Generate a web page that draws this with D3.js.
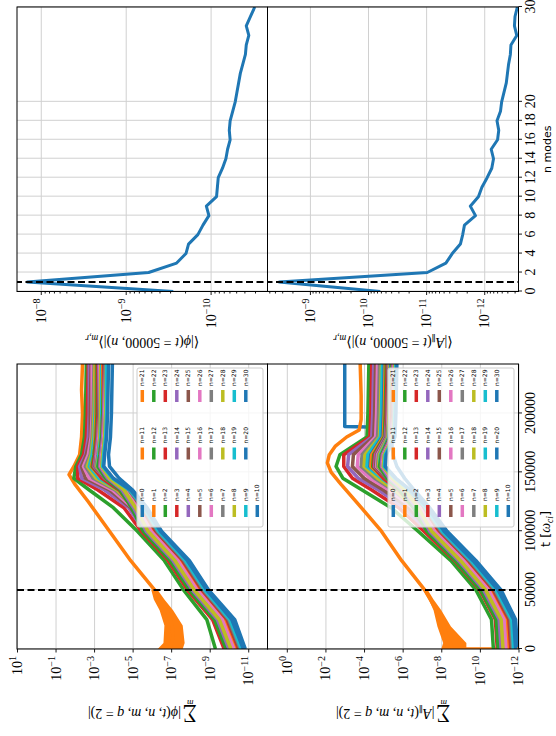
<!DOCTYPE html>
<html>
<head>
<meta charset="utf-8">
<script src="https://cdn.jsdelivr.net/npm/d3@7"></script>
<style>
  html, body { margin: 0; padding: 0; background: #fff; }
  svg { display: block; }
</style>
</head>
<body>
<svg id="fig" width="556" height="736"></svg>
<script>
// ---------- data (log10 of the amplitudes) ----------
const modeNumbers = [0, 1, 2, 3, 4, 5, 6, 7, 8, 9, 10, 11, 12, 13, 14, 15, 16, 17, 18, 19, 20,
                     21, 22, 23, 24, 25, 26, 27, 28, 29, 30];
const tab10 = ['#1f77b4', '#ff7f0e', '#2ca02c', '#d62728', '#9467bd',
               '#8c564b', '#e377c2', '#7f7f7f', '#bcbd22', '#17becf'];

const tLimits = [0, 242000];
const tStart = 50000;      // dashed marker on the time series
const nMarker = 1;         // dashed marker on the spectra

// shared time grid for the n=0 / n>=2 curves
const tGrid = [0, 25000, 50000, 75000, 100000, 120000, 135000, 145000, 155000, 165000, 180000, 200000, 242000];

// phi, n = 0
const phiN0 = [-10.85, -10.3, -8.95, -7.95, -6.5, -5.75, -5.0, -4.3, -3.8, -3.75, -3.85, -3.9, -3.95];
// phi, n = 1 (own time base)
const phiN1Time = [0, 10000, 20000, 30000, 40000, 50000, 75000, 100000, 125000, 140000, 148000, 155000, 165000, 180000, 200000, 220000, 242000];
const phiN1 = [-6.9, -7.1, -7.05, -6.85, -6.5, -6.15, -4.9, -3.8, -2.7, -2.0, -1.7, -1.95, -2.25, -2.35, -2.4, -2.35, -2.4];
const phiN1BandTime = [0, 5000, 20000, 33000, 42000, 50000];
const phiN1BandLo = [-7.6, -7.7, -7.6, -7.1, -6.65, -6.3];
const phiN1BandHi = [-6.3, -6.6, -6.65, -6.4, -6.1, -5.97];
// phi, n = 2 .. 30 on tGrid
const phiBundle = [
  [-9.3, -8.85, -7.65, -6.65, -5.25, -4.0, -2.75, -1.95, -2.05, -2.35, -2.5, -2.55, -2.6],
  [-9.75, -9.15, -7.85, -6.85, -5.45, -4.55, -3.2, -2.15, -2.15, -2.45, -2.6, -2.65, -2.7],
  [-9.9, -9.3, -8.0, -7.0, -5.6, -4.8, -3.55, -2.35, -2.25, -2.55, -2.7, -2.75, -2.75],
  [-10.0, -9.4, -8.1, -7.1, -5.7, -4.9, -3.8, -2.55, -2.35, -2.6, -2.8, -2.8, -2.85],
  [-10.1, -9.5, -8.2, -7.2, -5.8, -5.0, -3.95, -2.75, -2.45, -2.7, -2.85, -2.9, -2.9],
  [-10.2, -9.6, -8.3, -7.3, -5.9, -5.1, -4.1, -2.95, -2.55, -2.8, -2.9, -2.95, -3.0],
  [-10.05, -9.45, -8.15, -7.15, -5.75, -5.05, -4.2, -3.1, -2.65, -2.85, -2.95, -3.0, -3.05],
  [-10.3, -9.7, -8.4, -7.4, -6.0, -5.2, -4.3, -3.25, -2.75, -2.9, -3.0, -3.05, -3.1],
  [-10.6, -10.0, -8.7, -7.7, -6.3, -5.45, -4.5, -3.45, -2.9, -3.0, -3.1, -3.1, -3.15],
  [-10.2, -9.6, -8.3, -7.3, -5.9, -5.15, -4.35, -3.4, -2.85, -3.0, -3.05, -3.1, -3.1],
  [-10.25, -9.65, -8.35, -7.35, -5.95, -5.2, -4.4, -3.45, -2.9, -3.0, -3.1, -3.15, -3.15],
  [-9.95, -9.35, -8.05, -7.05, -5.65, -5.0, -4.3, -3.4, -2.95, -3.05, -3.15, -3.2, -3.2],
  [-10.35, -9.75, -8.45, -7.45, -6.05, -5.3, -4.5, -3.55, -3.0, -3.1, -3.2, -3.25, -3.25],
  [-10.1, -9.5, -8.2, -7.2, -5.8, -5.1, -4.45, -3.55, -3.05, -3.15, -3.25, -3.25, -3.3],
  [-10.4, -9.8, -8.5, -7.5, -6.1, -5.35, -4.55, -3.6, -3.1, -3.15, -3.25, -3.3, -3.3],
  [-10.15, -9.55, -8.25, -7.25, -5.85, -5.15, -4.5, -3.6, -3.1, -3.2, -3.3, -3.3, -3.35],
  [-10.45, -9.85, -8.55, -7.55, -6.15, -5.4, -4.6, -3.65, -3.15, -3.25, -3.3, -3.35, -3.35],
  [-10.3, -9.7, -8.4, -7.4, -6.0, -5.3, -4.6, -3.7, -3.2, -3.25, -3.35, -3.4, -3.4],
  [-10.7, -10.1, -8.8, -7.8, -6.4, -5.6, -4.75, -3.8, -3.3, -3.3, -3.4, -3.45, -3.45],
  [-10.4, -9.8, -8.5, -7.5, -6.1, -5.4, -4.65, -3.75, -3.25, -3.3, -3.4, -3.45, -3.45],
  [-9.85, -9.25, -7.95, -6.95, -5.55, -4.95, -4.35, -3.6, -3.2, -3.3, -3.4, -3.45, -3.5],
  [-10.5, -9.9, -8.6, -7.6, -6.2, -5.45, -4.7, -3.8, -3.3, -3.35, -3.45, -3.5, -3.5],
  [-10.0, -9.4, -8.1, -7.1, -5.7, -5.05, -4.45, -3.7, -3.3, -3.35, -3.45, -3.5, -3.55],
  [-10.55, -9.95, -8.65, -7.65, -6.25, -5.5, -4.75, -3.85, -3.35, -3.4, -3.5, -3.55, -3.55],
  [-10.25, -9.65, -8.35, -7.35, -5.95, -5.25, -4.6, -3.8, -3.35, -3.4, -3.5, -3.55, -3.6],
  [-10.6, -10.0, -8.7, -7.7, -6.3, -5.55, -4.8, -3.9, -3.4, -3.45, -3.55, -3.6, -3.6],
  [-10.1, -9.5, -8.2, -7.2, -5.8, -5.15, -4.55, -3.8, -3.4, -3.45, -3.55, -3.6, -3.65],
  [-10.65, -10.05, -8.75, -7.75, -6.35, -5.6, -4.85, -3.95, -3.45, -3.5, -3.6, -3.65, -3.65],
  [-10.75, -10.15, -8.85, -7.85, -6.45, -5.65, -4.9, -4.0, -3.5, -3.55, -3.65, -3.7, -3.75]
];

// A_par, n = 0 (jumps to a constant level late in the run)
const aparN0Time = [0, 25000, 50000, 75000, 100000, 120000, 135000, 145000, 155000, 165000, 180000, 188000, 189000, 242000];
const aparN0 = [-11.95, -11.85, -11.1, -9.8, -8.3, -7.4, -6.6, -6.1, -5.7, -5.5, -5.4, -5.35, -3.0, -3.0];
// A_par, n = 1 (first sample is zero -> clipped at the bottom)
const aparN1Time = [0, 0, 10000, 20000, 30000, 40000, 50000, 75000, 100000, 125000, 140000, 150000, 158000, 165000, 172000, 180000, 186000, 195000, 215000, 242000];
const aparN1 = [-13, -8.6, -8.3, -8.1, -7.85, -7.5, -7.15, -5.95, -4.9, -3.6, -2.8, -2.3, -2.1, -2.2, -2.5, -3.1, -3.75, -3.85, -3.85, -3.8];
const aparN1BandTime = [0, 5000, 19000, 33000, 42000, 50000];
const aparN1BandLo = [-9.3, -9.3, -8.5, -8.0, -7.6, -7.3];
const aparN1BandHi = [-8.0, -8.1, -7.8, -7.6, -7.35, -7.05];
// A_par, n = 2 .. 30 on tGrid
const aparBundle = [
  [-10.7, -10.6, -9.8, -8.5, -6.8, -5.4, -3.9, -2.9, -2.55, -2.75, -4.15, -4.2, -4.25],
  [-10.9, -10.8, -10.0, -8.7, -7.1, -5.8, -4.4, -3.4, -2.95, -2.95, -4.3, -4.35, -4.4],
  [-11.0, -10.9, -10.1, -8.8, -7.3, -6.1, -4.75, -3.7, -3.15, -3.2, -4.4, -4.45, -4.5],
  [-11.1, -11.0, -10.2, -8.9, -7.4, -6.3, -5.0, -4.0, -3.4, -3.45, -4.5, -4.55, -4.6],
  [-11.2, -11.1, -10.3, -9.0, -7.5, -6.5, -5.3, -4.3, -3.65, -3.7, -4.6, -4.65, -4.7],
  [-11.3, -11.2, -10.4, -9.1, -7.6, -6.65, -5.5, -4.55, -3.85, -3.9, -4.7, -4.75, -4.8],
  [-11.15, -11.05, -10.25, -8.95, -7.5, -6.6, -5.6, -4.7, -4.0, -4.05, -4.8, -4.85, -4.9],
  [-11.4, -11.3, -10.5, -9.2, -7.7, -6.8, -5.8, -4.9, -4.15, -4.2, -4.85, -4.9, -4.95],
  [-11.7, -11.6, -10.8, -9.5, -8.0, -7.1, -6.05, -5.1, -4.3, -4.35, -4.95, -5.0, -5.05],
  [-11.3, -11.2, -10.4, -9.1, -7.6, -6.75, -5.85, -5.0, -4.35, -4.4, -5.0, -5.05, -5.1],
  [-11.35, -11.25, -10.45, -9.15, -7.65, -6.8, -5.9, -5.05, -4.45, -4.5, -5.05, -5.1, -5.15],
  [-11.05, -10.95, -10.15, -8.85, -7.35, -6.6, -5.8, -5.0, -4.5, -4.55, -5.1, -5.15, -5.2],
  [-11.45, -11.35, -10.55, -9.25, -7.75, -6.9, -6.0, -5.15, -4.55, -4.6, -5.1, -5.2, -5.25],
  [-11.2, -11.1, -10.3, -9.0, -7.5, -6.75, -5.95, -5.15, -4.6, -4.65, -5.15, -5.2, -5.25],
  [-11.5, -11.4, -10.6, -9.3, -7.8, -6.95, -6.05, -5.25, -4.65, -4.7, -5.2, -5.25, -5.3],
  [-11.25, -11.15, -10.35, -9.05, -7.55, -6.8, -6.0, -5.2, -4.7, -4.75, -5.2, -5.3, -5.3],
  [-11.55, -11.45, -10.65, -9.35, -7.85, -7.0, -6.1, -5.3, -4.75, -4.8, -5.25, -5.3, -5.35],
  [-11.4, -11.3, -10.5, -9.2, -7.7, -6.9, -6.05, -5.3, -4.8, -4.85, -5.3, -5.35, -5.4],
  [-11.8, -11.7, -10.9, -9.6, -8.1, -7.2, -6.25, -5.4, -4.85, -4.9, -5.3, -5.4, -5.4],
  [-11.5, -11.4, -10.6, -9.3, -7.8, -7.0, -6.15, -5.4, -4.85, -4.9, -5.35, -5.4, -5.45],
  [-10.95, -10.85, -10.05, -8.75, -7.25, -6.55, -5.85, -5.2, -4.8, -4.9, -5.35, -5.45, -5.45],
  [-11.6, -11.5, -10.7, -9.4, -7.9, -7.05, -6.2, -5.45, -4.9, -4.95, -5.4, -5.45, -5.5],
  [-11.1, -11.0, -10.2, -8.9, -7.4, -6.7, -6.0, -5.3, -4.9, -4.95, -5.4, -5.5, -5.5],
  [-11.65, -11.55, -10.75, -9.45, -7.95, -7.1, -6.25, -5.5, -4.95, -5.0, -5.45, -5.5, -5.55],
  [-11.35, -11.25, -10.45, -9.15, -7.65, -6.9, -6.1, -5.4, -4.95, -5.0, -5.45, -5.55, -5.55],
  [-11.7, -11.6, -10.8, -9.5, -8.0, -7.15, -6.3, -5.55, -5.0, -5.05, -5.5, -5.55, -5.6],
  [-11.2, -11.1, -10.3, -9.0, -7.5, -6.8, -6.1, -5.45, -5.0, -5.05, -5.5, -5.6, -5.6],
  [-11.75, -11.65, -10.85, -9.55, -8.05, -7.2, -6.35, -5.6, -5.05, -5.1, -5.55, -5.6, -5.65],
  [-11.85, -11.75, -10.95, -9.65, -8.15, -7.3, -6.4, -5.65, -5.1, -5.15, -5.6, -5.65, -5.7]
];

// spectra at t = 50000 (log10), index = n
const phiSpectrum = [-9.56, -7.84, -9.27, -9.60, -9.71, -9.74, -9.85, -9.91, -9.98, -9.95, -10.07,
  -10.08, -10.09, -10.14, -10.18, -10.20, -10.23, -10.22, -10.23, -10.26, -10.29,
  -10.31, -10.33, -10.35, -10.38, -10.41, -10.42, -10.45, -10.42, -10.47, -10.52];
const aparSpectrum = [-10.21, -8.47, -11.02, -11.34, -11.45, -11.59, -11.63, -11.66, -11.85, -11.76, -11.90,
  -11.96, -12.05, -12.13, -12.16, -12.12, -12.23, -12.25, -12.22, -12.28, -12.30,
  -12.34, -12.38, -12.40, -12.42, -12.45, -12.46, -12.56, -12.52, -12.53, -12.57];

// axis limits and ticks
const tsLogLimits = [-12, 1];
const phiSpLogLimits = [-10.67, -7.72];
const aparSpLogLimits = [-12.59, -8.27];
const tTicks = [0, 50000, 100000, 150000, 200000];
const nTicks = [0, 2, 4, 6, 8, 10, 12, 14, 16, 18, 20, 30];
const phiTsExp = [1, -1, -3, -5, -7, -9, -11];
const aparTsExp = [0, -2, -4, -6, -8, -10, -12];
const phiSpExp = [-8, -9, -10];
const aparSpExp = [-9, -10, -11, -12];

// ---------- layout (drawn in the unrotated frame, 736 x 556) ----------
const serif = '"Liberation Serif", "DejaVu Serif", serif';
const sans = '"DejaVu Sans", sans-serif';
const rows = [{ top: 17, bottom: 267.5 }, { top: 267.5, bottom: 518.5 }];
const tsLeft = 87, tsRight = 372, spLeft = 444.5, spRight = 729;

const svg = d3.select('#fig');
svg.append('rect').attr('width', 556).attr('height', 736).attr('fill', '#fff');
const fig = svg.append('g').attr('transform', 'translate(0,736) rotate(-90)');

const p10 = e => Math.pow(10, e);
const xT = d3.scaleLinear().domain(tLimits).range([tsLeft, tsRight]);
const xN = d3.scaleLinear().domain([0, 30]).range([spLeft, spRight]);
const yPhiTs = d3.scaleLog().domain(tsLogLimits.map(p10)).range([rows[0].bottom, rows[0].top]);
const yAparTs = d3.scaleLog().domain(tsLogLimits.map(p10)).range([rows[1].bottom, rows[1].top]);
const yPhiSp = d3.scaleLog().domain(phiSpLogLimits.map(p10)).range([rows[0].bottom, rows[0].top]);
const yAparSp = d3.scaleLog().domain(aparSpLogLimits.map(p10)).range([rows[1].bottom, rows[1].top]);

function powLabels(sel) {
    sel.each(function(d) {
        const e = Math.round(Math.log10(d));
        const t = d3.select(this).text(null);
        t.append('tspan').text('10');
        t.append('tspan').attr('dy', '-0.55em').attr('font-size', '0.72em')
            .text(e < 0 ? '\u2212' + (-e) : String(e));
    });
}

function styleAxis(g) {
    g.attr('font-family', serif).attr('font-size', 14);
    g.selectAll('.tick line').attr('stroke', '#000').attr('stroke-width', 0.9);
    g.selectAll('.tick text').attr('fill', '#000');
    g.select('.domain').remove();
}

// one panel: grid, clipped data, frame, axes
function panel(id, x, y, left, right, row, opts) {
    const g = fig.append('g');
    const w = right - left, h = row.bottom - row.top;

    g.append('clipPath').attr('id', id).append('rect')
        .attr('x', left).attr('y', row.top).attr('width', w).attr('height', h);

    // grid
    g.append('g').attr('transform', `translate(0,${row.bottom})`)
        .call(d3.axisBottom(x).tickValues(opts.xTicks).tickSize(-h).tickFormat(''))
        .call(s => s.select('.domain').remove())
        .selectAll('line').attr('stroke', '#d0d0d0').attr('stroke-width', 1);
    g.append('g').attr('transform', `translate(${left},0)`)
        .call(d3.axisLeft(y).tickValues(opts.yExp.map(p10)).tickSize(-w).tickFormat(''))
        .call(s => s.select('.domain').remove())
        .selectAll('line').attr('stroke', '#d0d0d0').attr('stroke-width', 1);

    const plot = g.append('g').attr('clip-path', `url(#${id})`);

    // frame
    g.append('rect').attr('x', left).attr('y', row.top).attr('width', w).attr('height', h)
        .attr('fill', 'none').attr('stroke', '#000').attr('stroke-width', 1);

    // y axis
    const ya = g.append('g').attr('transform', `translate(${left},0)`)
        .call(d3.axisLeft(y).tickValues(opts.yExp.map(p10)).tickSize(3.5).tickPadding(3.5))
        .call(styleAxis);
    ya.selectAll('.tick text').call(powLabels);
    if (opts.minor) {
        const lo = Math.floor(opts.limits[0]), hi = Math.ceil(opts.limits[1]);
        const minors = [];
        for (let k = lo; k < hi; k++) {
            for (let m = 2; m <= 9; m++) {
                const v = m * p10(k);
                if (Math.log10(v) > opts.limits[0] && Math.log10(v) < opts.limits[1]) minors.push(v);
            }
        }
        g.append('g').attr('transform', `translate(${left},0)`)
            .call(d3.axisLeft(y).tickValues(minors).tickSize(2).tickFormat(''))
            .call(styleAxis);
    }
    // x axis
    if (opts.xLabels) {
        g.append('g').attr('transform', `translate(0,${row.bottom})`)
            .call(d3.axisBottom(x).tickValues(opts.xTicks).tickSize(3.5).tickPadding(3).tickFormat(d3.format('d')))
            .call(styleAxis);
    }
    return plot;
}

const tsLine = y => d3.line().x(d => xT(d[0])).y(d => y(p10(d[1])));
const tsBand = y => d3.area().x(d => xT(d[0])).y0(d => y(p10(d[1]))).y1(d => y(p10(d[2])));

function drawSeries(plot, y, n0, n1, band, bundle) {
    const line = tsLine(y);
    const series = [{ n: 0, pts: d3.zip(n0.t, n0.v) }, { n: 1, pts: d3.zip(n1.t, n1.v) }]
        .concat(bundle.map((v, i) => ({ n: i + 2, pts: d3.zip(tGrid, v) })));
    plot.append('path')
        .datum(d3.zip(band.t, band.lo, band.hi))
        .attr('d', tsBand(y))
        .attr('fill', tab10[1]);
    plot.selectAll('path.series')
        .data(series)
        .enter()
        .append('path')
        .attr('class', 'series')
        .attr('d', d => line(d.pts))
        .attr('fill', 'none')
        .attr('stroke', d => tab10[d.n % 10])
        .attr('stroke-width', 3.5)
        .attr('stroke-linejoin', 'round');
    plot.append('line')
        .attr('x1', xT(tStart)).attr('x2', xT(tStart))
        .attr('y1', y.range()[1]).attr('y2', y.range()[0])
        .attr('stroke', '#000').attr('stroke-width', 2).attr('stroke-dasharray', '7,3.5');
}

function drawLegend(row) {
    const bw = 159, bh = 126;
    const bx = tsRight - 4 - bw, by = row.bottom - 4.5 - bh;
    const lg = fig.append('g');
    lg.append('rect').attr('x', bx).attr('y', by).attr('width', bw).attr('height', bh)
        .attr('rx', 2).attr('fill', '#fff').attr('fill-opacity', 0.8)
        .attr('stroke', '#cccccc').attr('stroke-width', 1);
    const item = lg.selectAll('g.item')
        .data(modeNumbers)
        .enter()
        .append('g')
        .attr('class', 'item')
        .attr('transform', n => {
            const col = n <= 10 ? 0 : (n <= 20 ? 1 : 2);
            const r = col === 0 ? n : (col === 1 ? n - 11 : n - 21);
            return `translate(${bx + 10 + 57.5 * col},${by + 5.3 + 11.5 * r})`;
        });
    item.append('line').attr('x1', 0).attr('x2', 12)
        .attr('stroke', n => tab10[n % 10]).attr('stroke-width', 3.5);
    item.append('text').attr('x', 16).attr('dy', '0.35em')
        .attr('font-family', sans).attr('font-size', 6)
        .text(n => 'n=' + n);
}

// rich text helper: parts drawn as tspans, optionally rotated
function richLabel(x, y, parts, rotate) {
    const t = fig.append('text')
        .attr('transform', `translate(${x},${y})` + (rotate ? ' rotate(-90)' : ''))
        .attr('text-anchor', 'middle')
        .attr('font-family', serif)
        .attr('font-size', 14)
        .attr('fill', '#000');
    parts.forEach(p => {
        const s = t.append('tspan').text(p.s);
        if (p.i) s.attr('font-style', 'italic');
        if (p.size) s.attr('font-size', p.size);
        if (p.dx) s.attr('dx', p.dx);
        if (p.dy) s.attr('dy', p.dy);
        if (p.f) s.attr('font-family', p.f);
    });
    return t;
}

// ---------- time series ----------
const plotPhiTs = panel('clipPhiTs', xT, yPhiTs, tsLeft, tsRight, rows[0],
    { xTicks: tTicks, yExp: phiTsExp, xLabels: false });
drawSeries(plotPhiTs, yPhiTs,
    { t: tGrid, v: phiN0 }, { t: phiN1Time, v: phiN1 },
    { t: phiN1BandTime, lo: phiN1BandLo, hi: phiN1BandHi }, phiBundle);

const plotAparTs = panel('clipAparTs', xT, yAparTs, tsLeft, tsRight, rows[1],
    { xTicks: tTicks, yExp: aparTsExp, xLabels: true });
drawSeries(plotAparTs, yAparTs,
    { t: aparN0Time, v: aparN0 }, { t: aparN1Time, v: aparN1 },
    { t: aparN1BandTime, lo: aparN1BandLo, hi: aparN1BandHi }, aparBundle);

drawLegend(rows[0]);
drawLegend(rows[1]);

// ---------- spectra ----------
function drawSpectrum(plot, y, values) {
    const line = d3.line().x((d, i) => xN(modeNumbers[i])).y(d => y(p10(d)));
    plot.append('path').datum(values).attr('d', line)
        .attr('fill', 'none').attr('stroke', tab10[0]).attr('stroke-width', 3)
        .attr('stroke-linejoin', 'round');
    plot.append('line')
        .attr('x1', xN(nMarker)).attr('x2', xN(nMarker))
        .attr('y1', y.range()[1] - 2).attr('y2', y.range()[0] + 2)
        .attr('stroke', '#000').attr('stroke-width', 2).attr('stroke-dasharray', '7,3.5');
}

const plotPhiSp = panel('clipPhiSp', xN, yPhiSp, spLeft, spRight, rows[0],
    { xTicks: nTicks, yExp: phiSpExp, xLabels: false, minor: true, limits: phiSpLogLimits });
drawSpectrum(plotPhiSp, yPhiSp, phiSpectrum);
const plotAparSp = panel('clipAparSp', xN, yAparSp, spLeft, spRight, rows[1],
    { xTicks: nTicks, yExp: aparSpExp, xLabels: true, minor: true, limits: aparSpLogLimits });
drawSpectrum(plotAparSp, yAparSp, aparSpectrum);

// ---------- labels ----------
const midPhi = (rows[0].top + rows[0].bottom) / 2;
const midApar = (rows[1].top + rows[1].bottom) / 2;

richLabel(27, midPhi, [
    { s: '\u2211', size: 20 },
    { s: 'm', i: true, size: 9, dx: -11, dy: 9 },
    { s: '|', dx: 6, dy: -9 },
    { s: '\u03d5', i: true }, { s: '(' }, { s: 't', i: true }, { s: ', ' }, { s: 'n', i: true },
    { s: ', ' }, { s: 'm', i: true }, { s: ', ' }, { s: 'q', i: true }, { s: ' = 2)|' }
], true);
richLabel(27, midApar, [
    { s: '\u2211', size: 20 },
    { s: 'm', i: true, size: 9, dx: -11, dy: 9 },
    { s: '|', dx: 6, dy: -9 },
    { s: 'A', i: true }, { s: '\u2225', size: 9, dy: 3 }, { s: '(', dy: -3 }, { s: 't', i: true },
    { s: ', ' }, { s: 'n', i: true }, { s: ', ' }, { s: 'm', i: true }, { s: ', ' },
    { s: 'q', i: true }, { s: ' = 2)|' }
], true);

richLabel(398, midPhi, [
    { s: '\u27e8|' }, { s: '\u03d5', i: true }, { s: '(' }, { s: 't', i: true }, { s: ' = 50000, ' },
    { s: 'n', i: true }, { s: ')|\u27e9' }, { s: 'm,r', i: true, size: 9.5, dy: 3.5 }
], true);
richLabel(398, midApar, [
    { s: '\u27e8|' }, { s: 'A', i: true }, { s: '\u2225', size: 9, dy: 3 }, { s: '(', dy: -3 },
    { s: 't', i: true }, { s: ' = 50000, ' }, { s: 'n', i: true }, { s: ')|\u27e9' },
    { s: 'm,r', i: true, size: 9.5, dy: 3.5 }
], true);

richLabel(207, 550, [
    { s: 't [', f: sans, size: 13 }, { s: '\u03c9', i: true }, { s: 'ci', i: true, size: 9.5, dy: 3 },
    { s: ']', f: sans, size: 13, dy: -3 }
], false);
fig.append('text')
    .attr('x', (spLeft + spRight) / 2).attr('y', 551)
    .attr('text-anchor', 'middle')
    .attr('font-family', sans).attr('font-size', 11)
    .text('n modes');
</script>
</body>
</html>
